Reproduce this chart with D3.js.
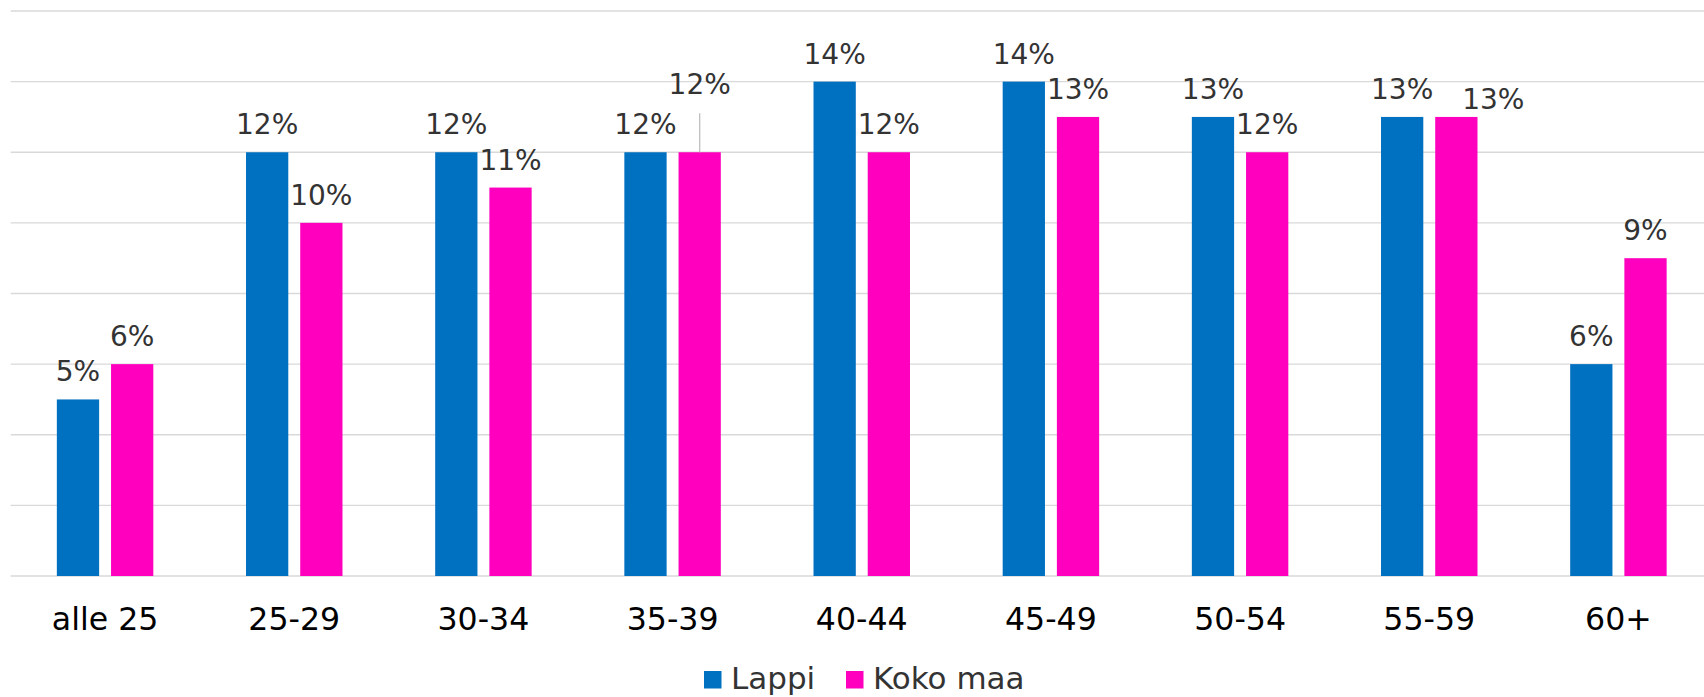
<!DOCTYPE html>
<html>
<head>
<meta charset="utf-8">
<script src="https://cdn.jsdelivr.net/npm/d3@7/dist/d3.min.js"></script>
<style>
  html, body { margin: 0; padding: 0; background: #fff; }
  svg { display: block; font-family: "DejaVu Sans", Verdana, sans-serif; }
</style>
</head>
<body>
<svg id="chart" width="1704" height="697"></svg>
<script>
const categories = ["alle 25", "25-29", "30-34", "35-39", "40-44", "45-49", "50-54", "55-59", "60+"];
const seriesNames = ["Lappi", "Koko maa"];
const lappiValues = [5, 12, 12, 12, 14, 14, 13, 13, 6];
const kokoMaaValues = [6, 10, 11, 12, 12, 13, 12, 13, 9];
const seriesColors = ["#0070C0", "#FF00BF"];
const gridTicks = [0, 2, 4, 6, 8, 10, 12, 14, 16];

// manually moved data labels in the original (series index, category index, dx, dy, leader line)
const labelAdjust = [
  { s: 1, c: 3, dx: 0, dy: -40, leader: true },
  { s: 1, c: 7, dx: 37, dy: 10, leader: false }
];

const W = 1704, H = 697;
const svg = d3.select("#chart");

const x0 = d3.scaleBand().domain(categories).range([10.5, 1713]).paddingInner(0.49).paddingOuter(0.245);
const x1 = d3.scaleBand().domain(seriesNames).range([0, x0.bandwidth()]).paddingInner(0.22);
const y = d3.scaleLinear().domain([0, 16]).range([576, 11]);

// gridlines
svg.append("g").selectAll("line").data(gridTicks).join("line")
  .attr("x1", 10.7).attr("x2", W)
  .attr("y1", d => y(d)).attr("y2", d => y(d))
  .attr("stroke", "#D9D9D9").attr("stroke-width", 1.4);

const rows = categories.map((c, i) => ({ cat: c, vals: [lappiValues[i], kokoMaaValues[i]] }));

const groups = svg.append("g").selectAll("g").data(rows).join("g")
  .attr("transform", d => `translate(${x0(d.cat)},0)`);

groups.selectAll("rect").data(d => d.vals.map((v, s) => ({ v, s }))).join("rect")
  .attr("x", d => x1(seriesNames[d.s]))
  .attr("width", x1.bandwidth())
  .attr("y", d => y(d.v))
  .attr("height", d => y(0) - y(d.v))
  .attr("fill", d => seriesColors[d.s]);

// data labels
rows.forEach((r, ci) => {
  r.vals.forEach((v, s) => {
    const cx = x0(r.cat) + x1(seriesNames[s]) + x1.bandwidth() / 2;
    const top = y(v);
    let lx = cx, ly = top - 18;
    const adj = labelAdjust.find(a => a.s === s && a.c === ci);
    if (adj) {
      lx += adj.dx; ly += adj.dy;
      if (adj.leader) {
        svg.append("line")
          .attr("x1", cx).attr("x2", cx)
          .attr("y1", ly + 19).attr("y2", top)
          .attr("stroke", "#BFBFBF").attr("stroke-width", 1.3);
      }
    }
    svg.append("text")
      .attr("x", lx).attr("y", ly)
      .attr("text-anchor", "middle")
      .attr("font-size", 28)
      .attr("fill", "#333333")
      .text(v + "%");
  });
});

// x axis labels
const xAxis = d3.axisBottom(x0).tickSize(0).tickPadding(0);
const gx = svg.append("g").attr("transform", `translate(0,${y(0)})`).call(xAxis);
gx.select(".domain").remove();
gx.selectAll("text")
  .attr("font-family", "DejaVu Sans, Verdana, sans-serif")
  .attr("font-size", 31.6)
  .attr("fill", "#000")
  .attr("dy", null)
  .attr("y", 54);

// legend
const legendX = [704, 846];
const legend = svg.append("g");
seriesNames.forEach((name, i) => {
  legend.append("rect")
    .attr("x", legendX[i]).attr("y", 671)
    .attr("width", 17.5).attr("height", 17.5)
    .attr("fill", seriesColors[i]);
  legend.append("text")
    .attr("x", legendX[i] + 27).attr("y", 689)
    .attr("font-size", 31)
    .attr("fill", "#333333")
    .text(name);
});
</script>
</body>
</html>
